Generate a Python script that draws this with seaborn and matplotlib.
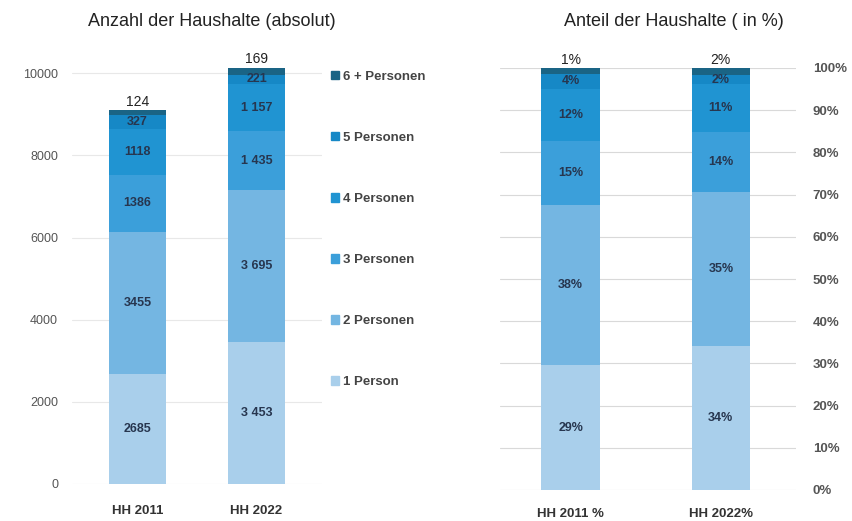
import numpy as np
import pandas as pd
import matplotlib
matplotlib.use("Agg")
import matplotlib.pyplot as plt
import seaborn as sns

# --- data ---
groups = ['1 Person', '2 Personen', '3 Personen', '4 Personen', '5 Personen', '6 + Personen']
years_abs = ['HH 2011', 'HH 2022']
years_pct = ['HH 2011 %', 'HH 2022%']
hh_2011 = [2685, 3455, 1386, 1118, 327, 124]
hh_2022 = [3453, 3695, 1435, 1157, 221, 169]
labels_2011 = ['2685', '3455', '1386', '1118', '327', '124']
labels_2022 = ['3 453', '3 695', '1 435', '1 157', '221', '169']
pct_labels_2011 = ['29%', '38%', '15%', '12%', '4%', '1%']
pct_labels_2022 = ['34%', '35%', '14%', '11%', '2%', '2%']

colors = ['#a9cfeb', '#74b6e2', '#3b9fda', '#2094d2', '#1688c6', '#1a6485']
label_col = '#27364f'

sns.set_theme(style='white')
plt.rcParams['font.family'] = ['Liberation Sans', 'DejaVu Sans']

fig = plt.figure(figsize=(8.52, 5.21), dpi=100)
ax1 = fig.add_axes([72 / 852, 37 / 521, 250 / 852, 419 / 521])
ax2 = fig.add_axes([500 / 852, 31 / 521, 296 / 852, 422 / 521])

counts = pd.DataFrame({years_abs[0]: hh_2011, years_abs[1]: hh_2022}, index=groups)
cum_abs = counts.cumsum()
pct = counts / counts.sum() * 100
pct.columns = years_pct
cum_pct = pct.cumsum()


def stacked(ax, cum, width):
    # draw the cumulative totals from the top down so lower segments overlay
    for i in range(len(groups) - 1, -1, -1):
        df = pd.DataFrame({'year': cum.columns, 'val': cum.iloc[i].values})
        sns.barplot(data=df, x='year', y='val', color=colors[i], width=width,
                    saturation=1, ax=ax, zorder=2, linewidth=0)


stacked(ax1, cum_abs, 0.48)
stacked(ax2, cum_pct, 0.39)

# data labels
for ax, cum, labs, top_off in [(ax1, cum_abs, [labels_2011, labels_2022], 40),
                               (ax2, cum_pct, [pct_labels_2011, pct_labels_2022], 0.3)]:
    for j, col in enumerate(cum.columns):
        vals = cum[col].values
        lows = np.concatenate([[0], vals[:-1]])
        for i in range(len(groups)):
            if i == len(groups) - 1:
                ax.text(j, vals[i] + top_off, labs[j][i], ha='center', va='bottom',
                        fontsize=10, color='#222222', zorder=5)
            else:
                ax.text(j, (lows[i] + vals[i]) / 2, labs[j][i], ha='center', va='center',
                        fontsize=9, fontweight='bold', color=label_col, zorder=5)

# left axis styling
ax1.set_ylim(0, 10200)
ax1.set_xlim(-0.55, 1.55)
ax1.set_yticks(range(0, 10001, 2000))
ax1.yaxis.grid(True, color='#e8e8e8', linewidth=0.8, zorder=0)
ax1.set_axisbelow(True)
ax1.tick_params(axis='y', labelsize=9, colors='#555555', length=0, pad=10)
ax1.tick_params(axis='x', labelsize=9.5, colors='#333333', length=0, pad=15)
for t in ax1.get_xticklabels():
    t.set_fontweight('bold')
ax1.set_xlabel('')
ax1.set_ylabel('')
sns.despine(ax=ax1, left=True, bottom=True)
fig.text(212 / 852, 1 - 21 / 521, 'Anzahl der Haushalte (absolut)', ha='center', va='center',
         fontsize=13, color='#222222')

# right axis styling
ax2.set_ylim(0, 100)
ax2.set_xlim(-0.47, 1.5)
ax2.set_yticks(range(0, 101, 10))
ax2.set_yticklabels([f'{v}%' for v in range(0, 101, 10)])
ax2.yaxis.tick_right()
ax2.yaxis.grid(True, color='#d9d9d9', linewidth=0.8, zorder=0)
ax2.set_axisbelow(True)
ax2.tick_params(axis='y', labelsize=9.5, colors='#555555', length=0, pad=12)
ax2.tick_params(axis='x', labelsize=9.5, colors='#333333', length=0, pad=13)
for t in ax2.get_xticklabels() + ax2.get_yticklabels():
    t.set_fontweight('bold')
ax2.set_xlabel('')
ax2.set_ylabel('')
sns.despine(ax=ax2, left=True, bottom=True)
fig.text(674 / 852, 1 - 21 / 521, 'Anteil der Haushalte ( in %)', ha='center', va='center',
         fontsize=13, color='#222222')

# legend
handles = [plt.Rectangle((0, 0), 1, 1, color=c) for c in colors][::-1]
leg = fig.legend(handles, groups[::-1], loc='upper left', bbox_to_anchor=(319 / 852, 1 - 59 / 521),
                 frameon=False, fontsize=9.5, labelspacing=3.72, handlelength=0.6, handleheight=0.6,
                 handletextpad=0.35)
for t in leg.get_texts():
    t.set_fontweight('bold')
    t.set_color('#444444')

fig.savefig('out.png', dpi=100)
